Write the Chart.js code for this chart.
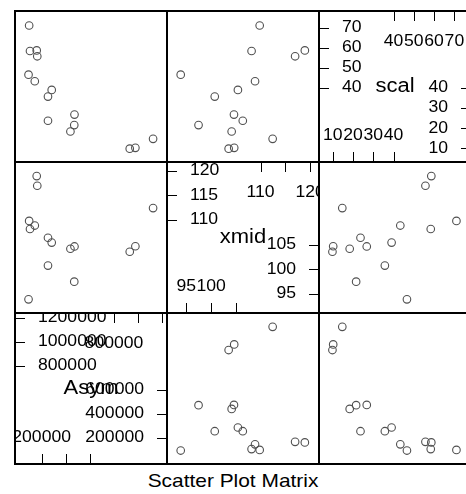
<!DOCTYPE html>
<html>
<head>
<meta charset="utf-8">
<script src="https://cdn.jsdelivr.net/npm/chart.js@4.4.1/dist/chart.umd.min.js"></script>
<style>
body{margin:0;background:#fff;width:466px;height:494px;overflow:hidden;position:relative;font-family:"Liberation Sans",Arial,sans-serif}
canvas{position:absolute}
#outer{position:absolute;left:14px;top:10px;width:456px;height:453px;border:1px solid #000}
#title{position:absolute;left:0;top:471px;width:466px;text-align:center;font-size:19px;line-height:19px;color:#000;transform:scaleX(1.1)}
</style>
</head>
<body>
<div id="outer"></div>
<div id="title">Scatter Plot Matrix</div>
<script>
const asym=[1160000,1003000,953000,463000,461000,427000,261000,228000,228000,133000,128000,111000,68500,61000,55500];
const xmid=[112.85,104.55,103.35,104.5,96.85,104.0,105.35,100.35,106.4,117.7,119.8,109.05,108.3,110.05,93.0];
const scal=[12.9,8.1,7.7,25.8,20.2,16.8,38.9,35.35,22.5,56.75,59.85,43.5,59.55,73.1,47.0];

const asymLim=[-21000,1240000];
const xmidLim=[91.1,121.8];
const scalLim=[3.2,78.2];

// diagonal axes: low ticks go bottom/right, high ticks top/left
const asymLow=[200000,400000,600000], asymHigh=[800000,1000000,1200000];
const xmidLow=[95,100,105], xmidHigh=[110,115,120];
const scalLow=[10,20,30,40], scalHigh=[40,50,60,70];
// x labels that survive overlap checking ('' = tick only)
const asymBottom=["200000","",""], asymTop=["800000","",""];
const xmidBottom=["95","100",""], xmidTop=["110","","120"];
const scalBottom=["10","20","30","40"], scalTop=["40","50","60","70"];

const vars=[
  {name:"Asym",values:asym,lim:asymLim,low:asymLow,high:asymHigh,bottom:asymBottom,top:asymTop},
  {name:"xmid",values:xmid,lim:xmidLim,low:xmidLow,high:xmidHigh,bottom:xmidBottom,top:xmidTop},
  {name:"scal",values:scal,lim:scalLim,low:scalLow,high:scalHigh,bottom:scalBottom,top:scalTop}
];

const LEFT=15,TOP=11,W=152,H=151,TICK=10;

function text(ctx,str,x,y,align,size){
  if(!str) return;
  ctx.save();
  ctx.font=size+'px "Liberation Sans"';
  ctx.textAlign=align;
  ctx.textBaseline='middle';
  ctx.translate(x,y);
  ctx.scale(1.1,1);
  ctx.fillText(str,0,0);
  ctx.restore();
}

const frame={
  id:'frame',
  afterDraw(chart){
    const ctx=chart.ctx;
    ctx.save();
    ctx.strokeStyle='#000';
    ctx.lineWidth=1;
    ctx.strokeRect(0.5,0.5,chart.width-1,chart.height-1);
    ctx.restore();
  }
};

function diagAxes(v){
  return {
    id:'diagAxes',
    afterDraw(chart){
      const {ctx,chartArea:a,scales:{x,y}}=chart;
      ctx.save();
      ctx.strokeStyle='#000';
      ctx.fillStyle='#000';
      ctx.lineWidth=1;
      ctx.beginPath();
      v.low.forEach(t=>{
        const px=Math.round(x.getPixelForValue(t))+0.5;
        const py=Math.round(y.getPixelForValue(t))+0.5;
        ctx.moveTo(px,a.bottom);ctx.lineTo(px,a.bottom-TICK);
        ctx.moveTo(a.right,py);ctx.lineTo(a.right-TICK,py);
      });
      v.high.forEach(t=>{
        const px=Math.round(x.getPixelForValue(t))+0.5;
        const py=Math.round(y.getPixelForValue(t))+0.5;
        ctx.moveTo(px,a.top);ctx.lineTo(px,a.top+TICK);
        ctx.moveTo(a.left,py);ctx.lineTo(a.left+TICK,py);
      });
      ctx.stroke();
      v.low.forEach((t,i)=>{
        text(ctx,v.bottom[i],x.getPixelForValue(t),a.bottom-26,'center',16);
        text(ctx,String(t),a.right-23,y.getPixelForValue(t),'right',16);
      });
      v.high.forEach((t,i)=>{
        text(ctx,v.top[i],x.getPixelForValue(t),a.top+30.5,'center',16);
        text(ctx,String(t),a.left+23,y.getPixelForValue(t),'left',16);
      });
      text(ctx,v.name,(a.left+a.right)/2,(a.top+a.bottom)/2,'center',20);
      ctx.restore();
    }
  };
}

for(let r=0;r<3;r++){
  for(let c=0;c<3;c++){
    const xv=vars[c], yv=vars[2-r];
    const cv=document.createElement('canvas');
    cv.width=W;cv.height=H;
    cv.style.left=(LEFT+c*W)+'px';
    cv.style.top=(TOP+r*H)+'px';
    document.body.appendChild(cv);
    const diag=xv===yv;
    const pts=diag?[]:xv.values.map((val,i)=>({x:val,y:yv.values[i]}));
    new Chart(cv,{
      type:'scatter',
      data:{datasets:[{
        data:pts,
        pointRadius:3.8,
        pointHoverRadius:3.8,
        pointBorderWidth:1.1,
        pointBorderColor:'#505050',
        pointBackgroundColor:'rgba(0,0,0,0)'
      }]},
      options:{
        responsive:false,
        animation:false,
        devicePixelRatio:1,
        events:[],
        layout:{padding:0},
        plugins:{legend:{display:false},tooltip:{enabled:false}},
        scales:{
          x:{type:'linear',min:xv.lim[0],max:xv.lim[1],display:false},
          y:{type:'linear',min:yv.lim[0],max:yv.lim[1],display:false}
        }
      },
      plugins:diag?[frame,diagAxes(xv)]:[frame]
    });
  }
}
</script>
</body>
</html>
